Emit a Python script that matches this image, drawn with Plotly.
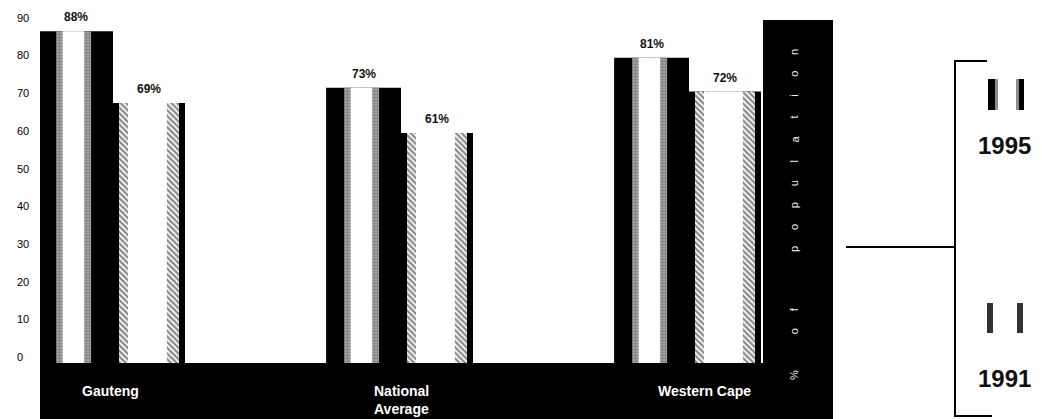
import plotly.graph_objects as go

# ---- data ----
regions = ["Gauteng", "National<br>Average", "Western Cape"]
share_1995 = [88, 73, 81]
share_1991 = [69, 61, 72]
y_tick_values = [0, 10, 20, 30, 40, 50, 60, 70, 80, 90]
axis_title = ["% of", "population"]
legend_years = ["1995", "1991"]

# ---- canvas geometry (pixels) ----
W, H = 1042, 419
PL, PR, PT, PB = 40, 833, 0, 363          # plot area edges
FONT = "Liberation Sans, Arial, sans-serif"


def px(x):
    """pixel x -> paper x"""
    return (x - PL) / (PR - PL)


def py(y):
    """pixel y -> paper y"""
    return (PB - y) / (PB - PT)


fig = go.Figure()

# 1995 bars: black with a white core framed by grey stippled edges
W95 = 0.26
for offset, width, color, pattern in [
    (-W95, W95, "#000000", None),
    (-0.1975, 0.1215, "#8c8c8c", dict(shape=".", fgcolor="#555555", bgcolor="#a8a8a8",
                                      size=3, solidity=0.5, fillmode="overlay")),
    (-0.175, 0.0747, "#ffffff", None),
]:
    fig.add_trace(go.Bar(
        x=regions, y=share_1995, offset=offset, width=width,
        marker=dict(color=color, line=dict(width=0), pattern=pattern),
        showlegend=False, hoverinfo="skip",
    ))

# 1991 bars: white core with hatched flanks and thin black edges
W91 = 0.25
for offset, width, color, pattern in [
    (0.0, W91, "#000000", None),
    (0.0208, 0.2083, "#ffffff", dict(shape="\\", fgcolor="#111111", bgcolor="#ffffff",
                                     size=4, solidity=0.55, fillmode="overlay")),
    (0.052, 0.135, "#ffffff", None),
]:
    fig.add_trace(go.Bar(
        x=regions, y=share_1991, offset=offset, width=width,
        marker=dict(color=color, line=dict(width=0), pattern=pattern),
        showlegend=False, hoverinfo="skip",
    ))

annotations = []

# value labels above each bar
for i, (a, b) in enumerate(zip(share_1995, share_1991)):
    annotations.append(dict(x=i - W95 / 2, y=a, xref="x", yref="y", text=f"{a}%",
                            showarrow=False, yanchor="bottom", yshift=5,
                            font=dict(family=FONT, size=12, color="#111111", weight="bold")))
    annotations.append(dict(x=i + W91 / 2, y=b, xref="x", yref="y", text=f"{b}%",
                            showarrow=False, yanchor="bottom", yshift=5,
                            font=dict(family=FONT, size=12, color="#111111", weight="bold")))

# y tick labels, left aligned at the page edge
for v in y_tick_values:
    annotations.append(dict(x=px(15), y=v, xref="paper", yref="y", text=str(v),
                            showarrow=False, xanchor="left", yanchor="middle", yshift=6,
                            font=dict(family=FONT, size=11, color="#000000")))

# region names in the black band below the bars
label_nudge = [-3, 0, 15]
for i, name in enumerate(regions):
    annotations.append(dict(x=i, y=py(381), xref="x", yref="paper", text=name,
                            showarrow=False, xanchor="center", yanchor="top",
                            xshift=label_nudge[i], align="left",
                            font=dict(family=FONT, size=14, color="#ffffff", weight="bold")))

# letter-spaced vertical axis title inside the tall black column
STEP = 21.9
starts = [375, 249]
for word, start in zip(axis_title, starts):
    k = 0
    for ch in word:
        if ch == " ":
            k += 1
            continue
        annotations.append(dict(x=px(794), y=py(start - k * STEP), xref="paper", yref="paper",
                                text=ch, showarrow=False, textangle=-90,
                                xanchor="center", yanchor="middle",
                                font=dict(family=FONT, size=11, color="#f0f0f0")))
        k += 1

# legend year labels
for year, ycen in zip(legend_years, [146, 378]):
    annotations.append(dict(x=px(1004), y=py(ycen), xref="paper", yref="paper", text=year,
                            showarrow=False, xanchor="center", yanchor="middle",
                            font=dict(family=FONT, size=24, color="#111111", weight="bold")))

shapes = []
# black band under the bars
shapes.append(dict(type="rect", xref="paper", yref="paper", x0=0, x1=1,
                   y0=py(H), y1=py(PB), fillcolor="#000000", line=dict(width=0), layer="above"))
# tall black column holding the axis title
shapes.append(dict(type="rect", xref="paper", yref="paper", x0=px(763), x1=1,
                   y0=py(H), y1=py(20), fillcolor="#000000", line=dict(width=0), layer="below"))

# connector line and legend bracket
line_style = dict(color="#000000", width=2)
shapes += [
    dict(type="line", xref="paper", yref="paper", x0=px(846), x1=px(955),
         y0=py(247), y1=py(247), line=line_style),
    dict(type="line", xref="paper", yref="paper", x0=px(955), x1=px(955),
         y0=py(61), y1=py(416), line=line_style),
    dict(type="line", xref="paper", yref="paper", x0=px(954), x1=px(987),
         y0=py(61), y1=py(61), line=line_style),
    dict(type="line", xref="paper", yref="paper", x0=px(954), x1=px(992),
         y0=py(416), y1=py(416), line=line_style),
]

# legend swatches: 1995 (black with grey inner edge), 1991 (dark hatched strips)
for x0, x1, gx0, gx1 in [(988, 998, 995, 998), (1016, 1024, 1016, 1019)]:
    shapes.append(dict(type="rect", xref="paper", yref="paper", x0=px(x0), x1=px(x1),
                       y0=py(110), y1=py(79), fillcolor="#000000", line=dict(width=0)))
    shapes.append(dict(type="rect", xref="paper", yref="paper", x0=px(gx0), x1=px(gx1),
                       y0=py(110), y1=py(79), fillcolor="#8c8c8c", line=dict(width=0)))
for x0, x1 in [(987, 993), (1017, 1023)]:
    shapes.append(dict(type="rect", xref="paper", yref="paper", x0=px(x0), x1=px(x1),
                       y0=py(333), y1=py(303), fillcolor="#333333", line=dict(width=0)))

fig.update_layout(
    width=W, height=H,
    margin=dict(l=PL, r=W - PR, t=PT, b=H - PB, pad=0),
    paper_bgcolor="#ffffff", plot_bgcolor="#ffffff",
    barmode="overlay",
    showlegend=False,
    xaxis=dict(type="category", range=[-0.2535, 2.5], showticklabels=False,
               showgrid=False, zeroline=False, showline=False, ticks=""),
    yaxis=dict(range=[0, 96.3], showticklabels=False, showgrid=False,
               zeroline=False, showline=False, ticks=""),
    annotations=annotations,
    shapes=shapes,
)

fig.write_html("out.html")
